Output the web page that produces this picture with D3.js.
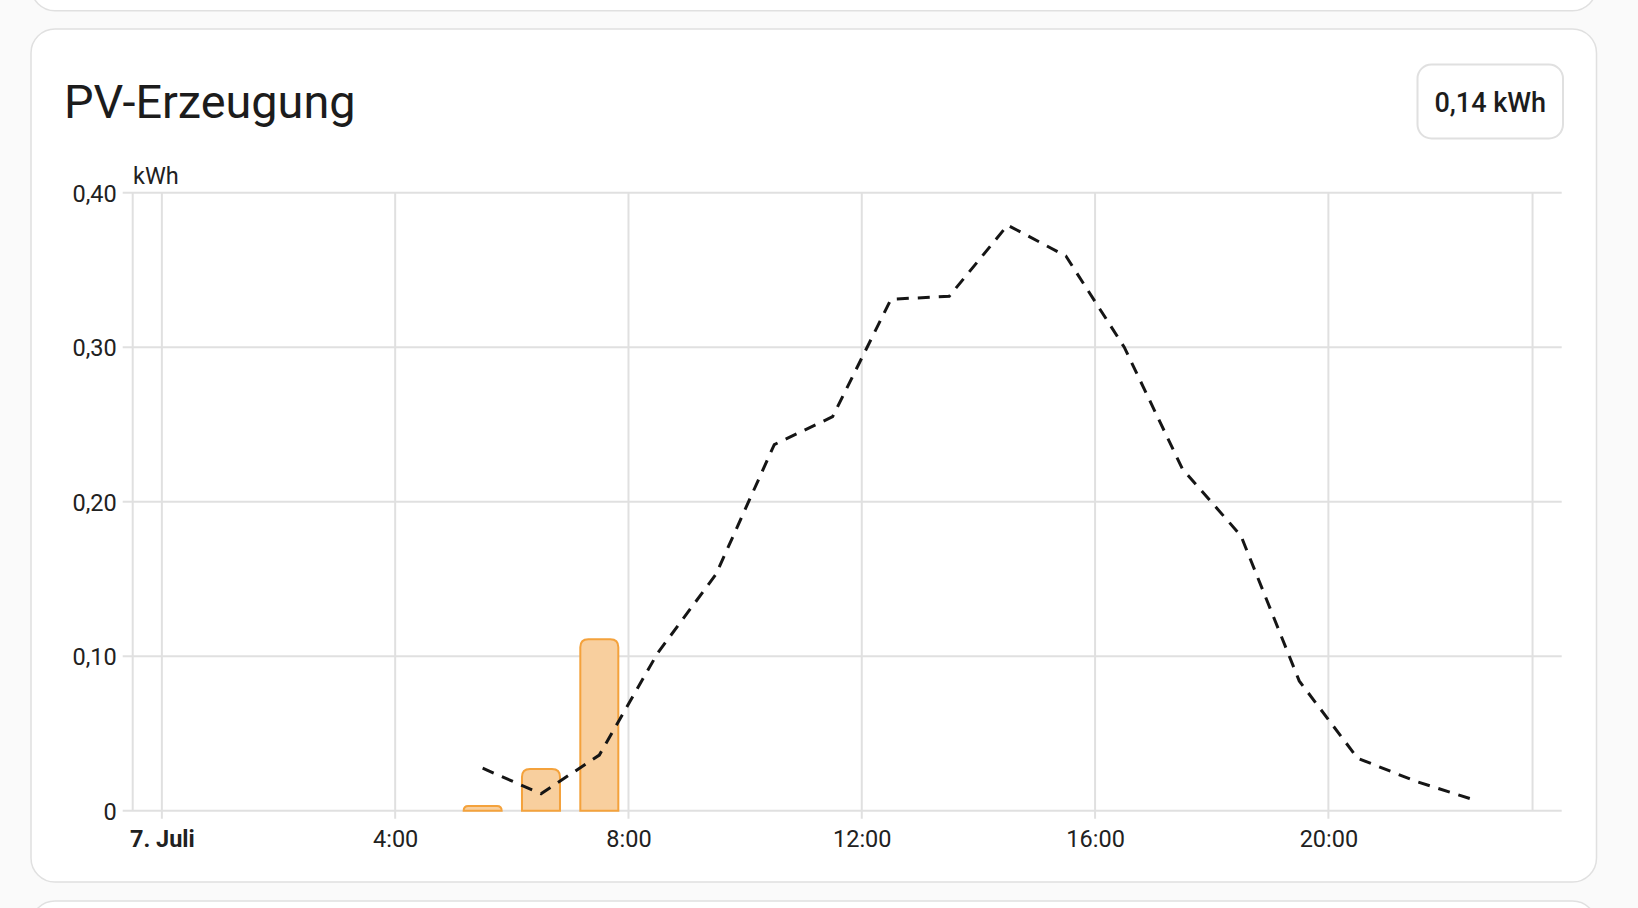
<!DOCTYPE html>
<html>
<head>
<meta charset="utf-8">
<script src="https://cdn.jsdelivr.net/npm/d3@7"></script>
<style>
  html, body { margin: 0; padding: 0; background: #fafafa; }
  svg { display: block; font-family: Roboto, "Noto Sans", sans-serif; }
</style>
</head>
<body>
<svg id="chart" width="1638" height="908"></svg>
<script>
// ---- data ----
const title = "PV-Erzeugung";
const totalLabel = "0,14 kWh";
const unitLabel = "kWh";
// hour centres (hours of 7 July) for the produced-energy bars
const barHours = [5.5, 6.5, 7.5];
const barValues = [0.003, 0.027, 0.111];
// forecast (dashed line)
const forecastHours = [5.5, 6.5, 7.5, 8.5, 9.5, 10.5, 11.5, 12.5, 13.5, 14.5, 15.5, 16.5, 17.5, 18.5, 19.5, 20.5, 21.5, 22.5];
const forecastValues = [0.0275, 0.011, 0.036, 0.102, 0.153, 0.237, 0.255, 0.331, 0.333, 0.379, 0.359, 0.300, 0.221, 0.178, 0.084, 0.034, 0.019, 0.007];
const yTicks = [0, 0.1, 0.2, 0.3, 0.4];
const yTickLabels = ["0", "0,10", "0,20", "0,30", "0,40"];
const xTickHours = [0, 4, 8, 12, 16, 20];
const xTickLabels = ["7. Juli", "4:00", "8:00", "12:00", "16:00", "20:00"];
const extraGridHours = [23.5];

const day = new Date(2024, 6, 7);
const at = h => new Date(day.getTime() + h * 3600 * 1000);

// ---- layout ----
const svg = d3.select("#chart");
const L = 132.7, R = 1561.7, T = 192.7, B = 810.7;
const tickFont = 23.5;

// background cards
svg.append("rect").attr("x", 31).attr("y", -40).attr("width", 1565.5).attr("height", 50.7)
  .attr("rx", 24).attr("fill", "#fff").attr("stroke", "#e0e0e0").attr("stroke-width", 1.5);
svg.append("rect").attr("x", 31).attr("y", 29).attr("width", 1565.5).attr("height", 853)
  .attr("rx", 24).attr("fill", "#fff").attr("stroke", "#e0e0e0").attr("stroke-width", 1.5);
svg.append("rect").attr("x", 31).attr("y", 901).attr("width", 1565.5).attr("height", 60)
  .attr("rx", 24).attr("fill", "#fff").attr("stroke", "#e0e0e0").attr("stroke-width", 1.5);

// title
svg.append("text").attr("x", 64).attr("y", 118).attr("font-size", 46.8).attr("fill", "#1c1c1c")
  .text(title);

// badge
const badge = svg.append("g");
badge.append("rect").attr("x", 1417.5).attr("y", 64.5).attr("width", 145.5).attr("height", 74)
  .attr("rx", 14).attr("fill", "#fff").attr("stroke", "#e0e0e0").attr("stroke-width", 2);
badge.append("text").attr("x", 1490.3).attr("y", 111.5).attr("text-anchor", "middle")
  .attr("font-size", 27).attr("font-weight", 500).attr("fill", "#1c1c1c").text(totalLabel);

// scales
const x = d3.scaleTime().domain([at(-0.5), at(24)]).range([L, R]);
const y = d3.scaleLinear().domain([0, 0.4]).range([B, T]);

const grid = svg.append("g").attr("stroke", "#e0e0e0").attr("stroke-width", 2).attr("fill", "none");
// horizontal grid lines (with small left tick)
grid.selectAll("line.h").data(yTicks).join("line").attr("class", "h")
  .attr("x1", L - 10).attr("x2", R).attr("y1", d => y(d)).attr("y2", d => y(d));
// y axis line
grid.append("line").attr("x1", L).attr("x2", L).attr("y1", T).attr("y2", B);
// vertical grid lines with ticks
grid.selectAll("line.v").data(xTickHours).join("line").attr("class", "v")
  .attr("x1", d => x(at(d))).attr("x2", d => x(at(d))).attr("y1", T).attr("y2", B + 8);
grid.selectAll("line.v2").data(extraGridHours).join("line").attr("class", "v2")
  .attr("x1", d => x(at(d))).attr("x2", d => x(at(d))).attr("y1", T).attr("y2", B);

// y axis labels
const yAxis = d3.axisLeft(y).tickValues(yTicks).tickSize(0).tickPadding(0)
  .tickFormat((d, i) => yTickLabels[i]);
const gy = svg.append("g").attr("transform", `translate(${L - 16},0)`).call(yAxis);
gy.select(".domain").remove();
gy.selectAll("text").attr("font-size", tickFont).attr("fill", "#212121")
  .attr("font-family", "Roboto, sans-serif").attr("dy", "0.36em");

// unit label
svg.append("text").attr("x", 133).attr("y", 184).attr("font-size", tickFont).attr("fill", "#212121")
  .text(unitLabel);

// x axis labels
const xAxis = d3.axisBottom(x).tickValues(xTickHours.map(at)).tickSize(0).tickPadding(0)
  .tickFormat((d, i) => xTickLabels[i]);
const gx = svg.append("g").attr("transform", `translate(0,${B})`).call(xAxis);
gx.select(".domain").remove();
gx.selectAll("text").attr("font-size", tickFont).attr("fill", "#212121")
  .attr("font-family", "Roboto, sans-serif").attr("dy", null).attr("y", 36)
  .attr("font-weight", (d, i) => i === 0 ? 700 : 400);

// bars
const barW = (x(at(1)) - x(at(0))) * 0.686;
function barPath(cx, top, bottom, w, r) {
  const h = bottom - top;
  r = Math.min(r, h, w / 2);
  const x0 = cx - w / 2, x1 = cx + w / 2;
  return `M${x0},${bottom}L${x0},${top + r}Q${x0},${top} ${x0 + r},${top}` +
         `L${x1 - r},${top}Q${x1},${top} ${x1},${top + r}L${x1},${bottom}Z`;
}
svg.append("g").selectAll("path").data(barHours.map((h, i) => ({h, v: barValues[i]}))).join("path")
  .attr("d", d => barPath(x(at(d.h)), y(d.v), y(0), barW - 2, 8))
  .attr("fill", "#f8cf9e").attr("stroke", "#f4a23c").attr("stroke-width", 2);

// forecast dashed line
const line = d3.line().x(d => x(at(d.h))).y(d => y(d.v));
svg.append("path")
  .datum(forecastHours.map((h, i) => ({h, v: forecastValues[i]})))
  .attr("d", line).attr("fill", "none").attr("stroke", "#151515").attr("stroke-width", 3)
  .attr("stroke-dasharray", "12 9");
</script>
</body>
</html>
